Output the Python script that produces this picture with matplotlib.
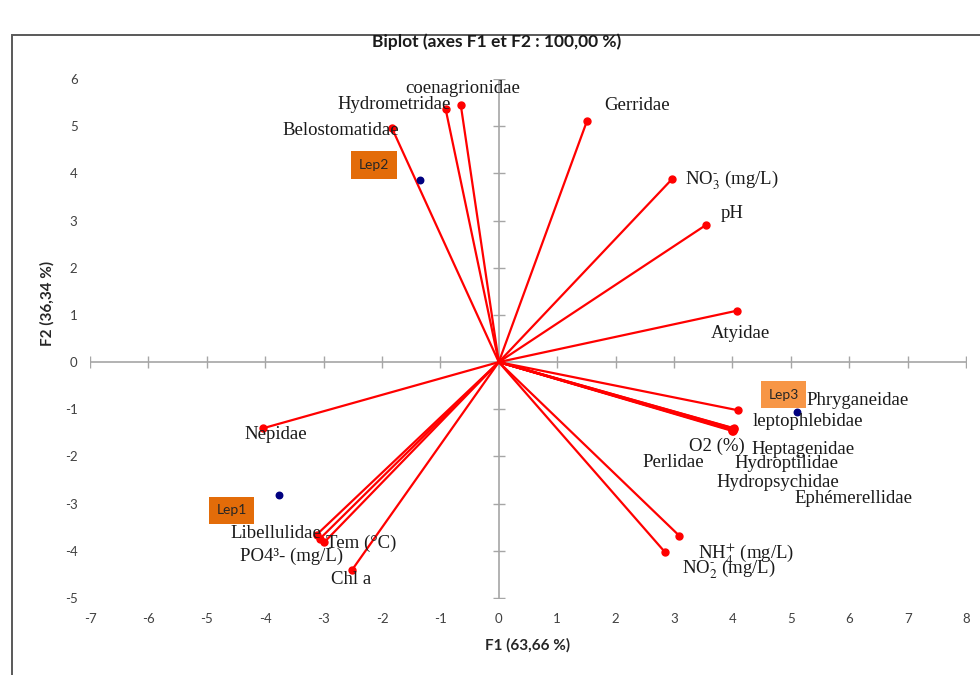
import numpy as np
import matplotlib
matplotlib.use("Agg")
import matplotlib.pyplot as plt
from matplotlib.patches import Rectangle

# variable vectors (F1, F2)
variables = ["Belostomatidae", "Hydrometridae", "coenagrionidae", "Gerridae",
             r"NO$_3^{\text{-}}$ (mg/L)", "pH", "Atyidae", "Phryganeidae",
             "leptophlebidae", "O2 (%)", "Heptagenidae", "Perlidae",
             "Hydroptilidae", "Hydropsychidae", "Ephémerellidae",
             r"NH$_4^{+}$ (mg/L)", r"NO$_2^{\text{-}}$ (mg/L)", "Chl a",
             "Libellulidae", "Tem (°C)", "PO4³- (mg/L)", "Nepidae"]
var_f1 = [-1.83, -0.91, -0.65, 1.51, 2.96, 3.54, 4.08, 4.09,
          4.02, 4.00, 4.01, 3.99, 4.03, 4.00, 4.01,
          3.09, 2.84, -2.51, -3.12, -2.99, -3.06, -4.03]
var_f2 = [4.96, 5.36, 5.44, 5.11, 3.87, 2.90, 1.09, -1.02,
          -1.40, -1.42, -1.45, -1.43, -1.41, -1.46, -1.44,
          -3.68, -4.02, -4.40, -3.66, -3.82, -3.74, -1.40]

# observations
obs = ["Lep1", "Lep2", "Lep3"]
obs_f1 = [-3.77, -1.35, 5.10]
obs_f2 = [-2.82, 3.86, -1.05]

xticks = list(range(-7, 9))
yticks = list(range(-5, 7))

# label offsets in pixels from the arrow tips
var_offsets = [(-51, -2), (-52, 5), (2, 17), (50, 15), (60, -1), (27, 12),
               (3, -23), (120, 10), (74, 7), (-16, -17), (70, -19),
               (-59, -33), (52, -35), (45, -52), (120, -68), (67, -18),
               (64, -18), (-1, -10), (-41, 1), (37, -1), (-29, -18), (12, -6)]
obs_offsets = [(-47, -15), (-46, 15), (-13, 17)]
obs_colors = ["#E36C09", "#E36C09", "#F79646"]

plt.rcParams["mathtext.fontset"] = "stix"
plt.rcParams["axes.unicode_minus"] = False
serif = "Liberation Serif"
sans = "Lato"
grey = "#A6A6A6"

fig = plt.figure(figsize=(9.8, 6.75), dpi=100)
ax = fig.add_axes([90 / 980, 1 - 598 / 675, 876 / 980, 519 / 675])
ax.set_xlim(-7, 8)
ax.set_ylim(-5, 6)
for s in ax.spines.values():
    s.set_visible(False)
ax.set_xticks(xticks)
ax.set_yticks(yticks)
ax.tick_params(length=0, labelsize=9.5, labelcolor="#404040")
ax.tick_params(axis="x", pad=11)
ax.tick_params(axis="y", pad=9)
for lab in ax.get_xticklabels() + ax.get_yticklabels():
    lab.set_fontfamily(sans)

# axes through the origin
ax.axhline(0, color=grey, lw=1.2, zorder=1)
ax.axvline(0, color=grey, lw=1.2, zorder=1)
ax.plot(xticks, np.zeros(len(xticks)), ls="none", marker="|", ms=8,
        mew=1.0, color=grey, zorder=1)
ax.plot(np.zeros(len(yticks)), yticks, ls="none", marker="_", ms=8,
        mew=1.0, color=grey, zorder=1)

for name, x, y, off in zip(variables, var_f1, var_f2, var_offsets):
    ax.plot([0, x], [0, y], color="#FF0000", lw=1.6, zorder=3)
    ax.plot(x, y, "o", color="#FF0000", ms=5, zorder=4)
    ax.annotate(name, (x, y), xytext=off, textcoords="offset pixels",
                ha="center", va="center", fontsize=13.5, family=serif,
                color="#1a1a1a", zorder=5)

ax.scatter(obs_f1, obs_f2, s=22, color="#000080", zorder=4)
for name, x, y, off, c in zip(obs, obs_f1, obs_f2, obs_offsets, obs_colors):
    ax.annotate(name, (x, y), xytext=off, textcoords="offset pixels",
                ha="center", va="center", fontsize=10, family=sans,
                color="#262626", zorder=6,
                bbox=dict(boxstyle="square,pad=0.55", fc=c, ec="none"))

fig.text(497 / 980, 1 - 42 / 675, "Biplot (axes F1 et F2 : 100,00 %)",
         ha="center", va="center", fontsize=12.5, fontweight="bold",
         family=sans, color="#1a1a1a")
fig.text(528 / 980, 1 - 645 / 675, "F1 (63,66 %)", ha="center", va="center",
         fontsize=11, fontweight="bold", family=sans, color="#262626")
fig.text(47 / 980, 1 - 303 / 675, "F2 (36,34 %)", ha="center", va="center",
         rotation=90, fontsize=11, fontweight="bold", family=sans,
         color="#262626")

# outer chart frame (cut off at right and bottom)
fig.patches.append(Rectangle((12 / 980, -0.1), 1.2, 0.1 + (1 - 35 / 675),
                             transform=fig.transFigure, fill=False,
                             ec="#595959", lw=1.4))

fig.savefig("out.png", dpi=100)
